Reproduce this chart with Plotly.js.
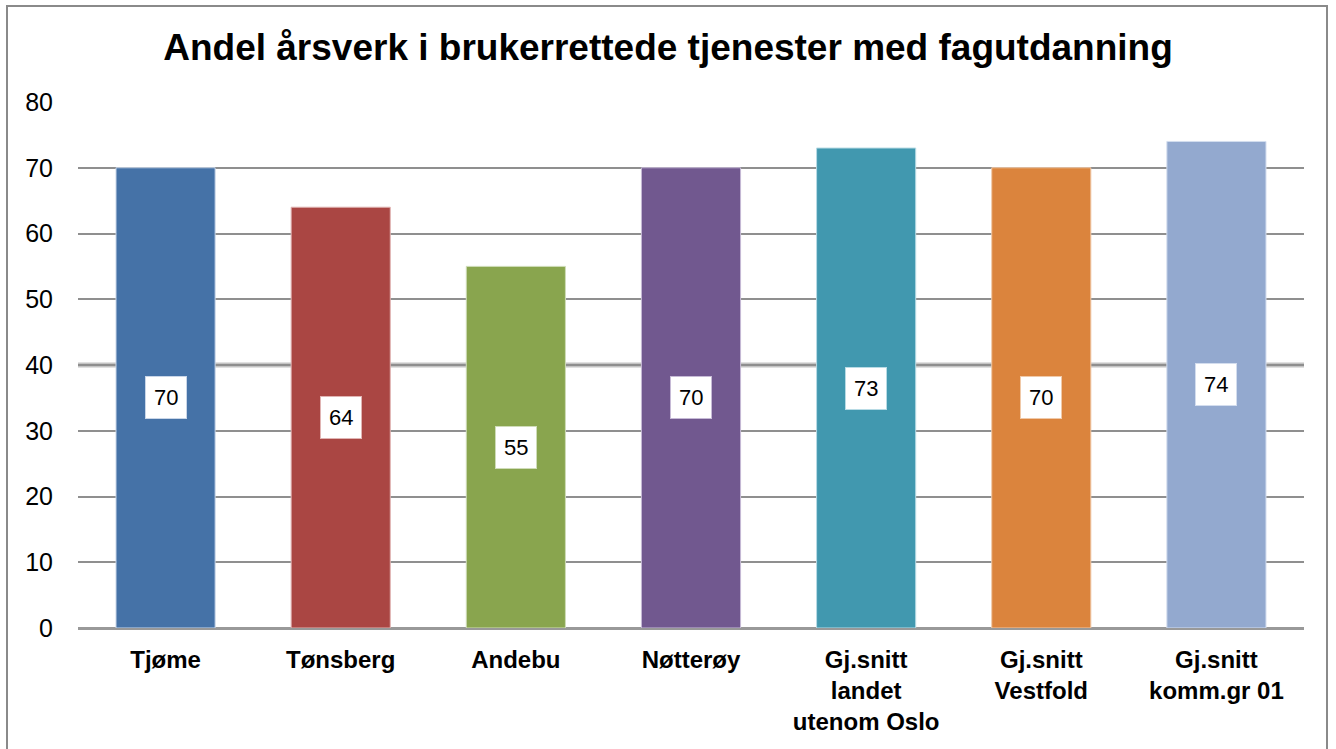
<!DOCTYPE html>
<html>
<head>
<meta charset="utf-8">
<script src="https://cdn.plot.ly/plotly-3.0.1.min.js"></script>
<style>
html,body{margin:0;padding:0;background:#fff;}
#frame{position:absolute;left:6px;top:5px;width:1322px;height:760px;border:2px solid #8a8a8a;box-sizing:border-box;}
#chart{position:absolute;left:0;top:0;width:1336px;height:749px;}
</style>
</head>
<body>
<div id="frame"></div>
<div id="chart"></div>
<script>
const categories = ["Tjøme", "Tønsberg", "Andebu", "Nøtterøy", "Gj.snitt<br>landet<br>utenom Oslo", "Gj.snitt<br>Vestfold", "Gj.snitt<br>komm.gr 01"];
const values = [70, 64, 55, 70, 73, 70, 74];
const barColors = ["#4572A7", "#AA4643", "#89A54E", "#71588F", "#4198AF", "#DB843D", "#93A9CF"];
const barEdges = ["#c9d6e8", "#e0b4b3", "#cfdcb8", "#c6bad6", "#b8dbe5", "#f0c9a8", "#d3ddee"];
const yTicks = [0, 10, 20, 30, 40, 50, 60, 70, 80];
const titleText = "Andel årsverk i brukerrettede tjenester med fagutdanning";

const trace = {
  type: "bar",
  x: categories,
  y: values,
  marker: {color: barColors, line: {color: barEdges, width: 1}},
  hoverinfo: "skip"
};

const annotations = values.map((v, i) => ({
  x: categories[i], y: v / 2, xref: "x", yref: "y",
  text: String(v), showarrow: false,
  font: {family: "Liberation Sans, Arial, sans-serif", size: 22, color: "#000"},
  bgcolor: "#ffffff", bordercolor: barEdges[i], borderwidth: 1, borderpad: 8
}));

const layout = {
  width: 1336, height: 749,
  margin: {l: 78, r: 32, t: 102, b: 121},
  paper_bgcolor: "rgba(0,0,0,0)", plot_bgcolor: "rgba(0,0,0,0)",
  title: {text: "<b>" + titleText + "</b>", x: 0.5, xref: "container", xanchor: "center",
          y: 0.937, yref: "container", yanchor: "middle",
          font: {family: "Liberation Sans, Arial, sans-serif", size: 37, color: "#000"}},
  bargap: 0.434,
  showlegend: false,
  xaxis: {
    tickfont: {family: "Liberation Sans, Arial, sans-serif", size: 24, color: "#000", weight: "bold"},
    showgrid: false, zeroline: false, showline: false, ticks: "",
    ticklabelstandoff: 15, fixedrange: true
  },
  yaxis: {
    range: [0, 80], tickvals: yTicks, ticktext: yTicks.map(String),
    tickfont: {family: "Liberation Sans, Arial, sans-serif", size: 25, color: "#000"},
    showgrid: true, gridcolor: "#8f8f8f", gridwidth: 2,
    zeroline: true, zerolinecolor: "#999999", zerolinewidth: 3,
    showline: false, ticks: "", ticklabelstandoff: 24, fixedrange: true
  },
  shapes: [{type: "line", xref: "paper", x0: 0, x1: 1, yref: "y", y0: 40, y1: 40,
            line: {color: "#c4c4c4", width: 5}, layer: "below"}],
  annotations: annotations
};

Plotly.newPlot("chart", [trace], layout, {displayModeBar: false, staticPlot: true});
</script>
</body>
</html>
